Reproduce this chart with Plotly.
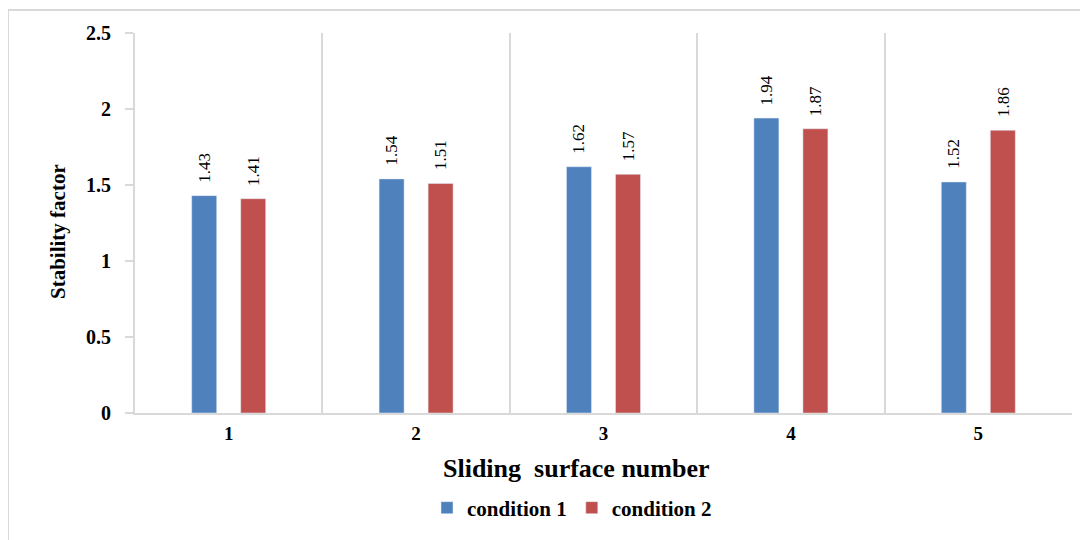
import plotly.graph_objects as go

categories = ["1", "2", "3", "4", "5"]
condition1 = [1.43, 1.54, 1.62, 1.94, 1.52]
condition2 = [1.41, 1.51, 1.57, 1.87, 1.86]
series_names = ["condition 1", "condition 2"]
y_ticks = [0, 0.5, 1, 1.5, 2, 2.5]
y_ticktext = ["0", "0.5", "1", "1.5", "2", "2.5"]

BLUE = "#4F81BD"
RED = "#C0504D"
GRID = "#d9d9d9"
SERIF = "Liberation Serif, Times New Roman, serif"

fig = go.Figure()
fig.add_trace(go.Bar(x=categories, y=condition1, name=series_names[0], marker_color=BLUE))
fig.add_trace(go.Bar(x=categories, y=condition2, name=series_names[1], marker_color=RED))

annotations = []
for vals, shift in ((condition1, -24.5), (condition2, 24.5)):
    for i, v in enumerate(vals):
        annotations.append(dict(
            x=i, y=v, xref="x", yref="y", text=f"{v:.2f}", showarrow=False,
            textangle=-90, xanchor="center", yanchor="bottom", xshift=shift, yshift=11,
            font=dict(family=SERIF, size=17, color="black"),
        ))

annotations.append(dict(
    x=(576 - 135) / 937, y=(413 - 468) / 380, xref="paper", yref="paper",
    text="<b>Sliding  surface number</b>", showarrow=False,
    xanchor="center", yanchor="middle", font=dict(family=SERIF, size=26, color="black"),
))
annotations.append(dict(
    x=(58 - 135) / 937, y=(413 - 232) / 380, xref="paper", yref="paper",
    text="<b>Stability factor</b>", showarrow=False, textangle=-90,
    xanchor="center", yanchor="middle", font=dict(family=SERIF, size=21, color="black"),
))

fig.update_layout(
    width=1080, height=532,
    margin=dict(l=127, r=16, t=25, b=127),
    paper_bgcolor="white", plot_bgcolor="white",
    barmode="group", bargap=0.477, bargroupgap=0.49,
    annotations=annotations,
    showlegend=True,
    legend=dict(
        orientation="h", x=(572 - 135) / 937, y=(413 - 508) / 380,
        xanchor="center", yanchor="middle",
        font=dict(family=SERIF, size=21, color="black", weight="bold"),
        itemwidth=30, tracegroupgap=0,
    ),
    font=dict(family=SERIF, color="black"),
    shapes=[dict(
        type="rect", xref="paper", yref="paper",
        x0=(8 - 135) / 937, x1=1.2, y0=-0.6, y1=(413 - 10) / 380,
        line=dict(color=GRID, width=2), fillcolor="rgba(0,0,0,0)", layer="below",
    )],
)

fig.update_xaxes(
    type="category", range=[-0.5, 4.5], tickson="boundaries", ticks="",
    showgrid=True, gridcolor=GRID, gridwidth=2,
    showline=True, linecolor=GRID, linewidth=2,
    ticklabelstandoff=2,
    tickfont=dict(family=SERIF, size=19, color="black", weight="bold"),
)
fig.update_yaxes(
    range=[0, 2.5], tickvals=y_ticks, ticktext=y_ticktext,
    showgrid=False, zeroline=False,
    showline=True, linecolor=GRID, linewidth=2,
    ticks="outside", ticklen=8, tickcolor=GRID, tickwidth=2,
    ticklabelstandoff=10,
    tickfont=dict(family=SERIF, size=20, color="black", weight="bold"),
)

fig.write_html("out.html")
